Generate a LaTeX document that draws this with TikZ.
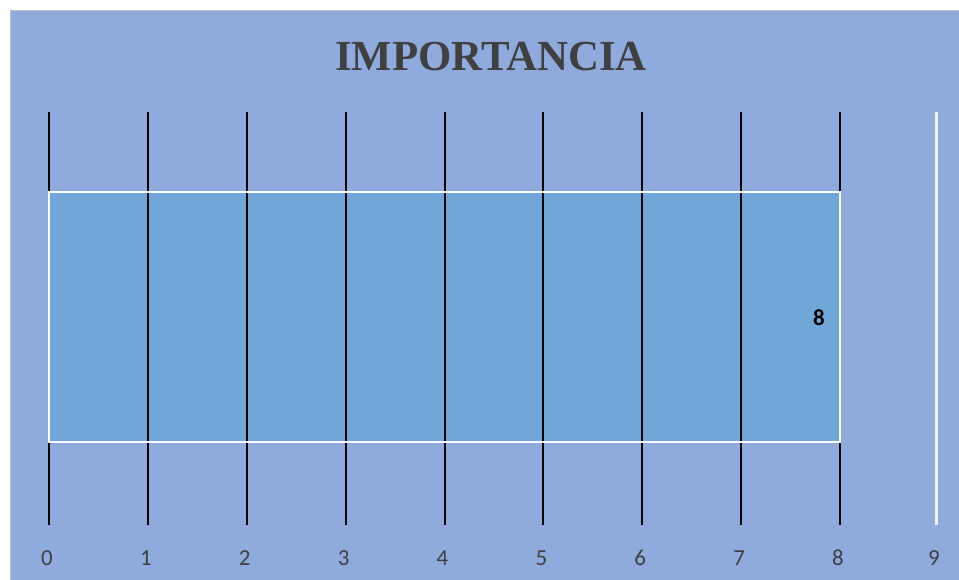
\documentclass[tikz,border=0pt]{standalone}
\usepackage{fontspec}
\setmainfont{Liberation Serif}
\newfontfamily\axisfont{Carlito}
\usepackage{tikz}
\definecolor{chartbg}{HTML}{8FAADC}
\definecolor{barfill}{HTML}{70A7D9}
\definecolor{txtgray}{HTML}{404040}
\definecolor{rimgray}{HTML}{BFBFBF}
\newcommand{\tick}[2]{node[text=txtgray,font=\axisfont\fontsize{23}{26}\selectfont] (#1) {#2}}

\begin{document}
\begin{tikzpicture}[x=1bp,y=-1bp]
       \useasboundingbox (0,0) rectangle (959,580);
       \fill[white] (0,0) rectangle (959,580);
       \fill[chartbg] (11,11) rectangle (959,580);
       \draw[rimgray,line width=1.5bp] (10.5,580) -- (10.5,10.5) -- (959,10.5);
       \node[text=txtgray,font=\bfseries\fontsize{43}{48}\selectfont] (title) at (491,57) {IMPORTANCIA};
       \foreach \x in {0,...,8} {
       \coordinate (top\x) at (49+98.875*\x,112);
       \coordinate (bot\x) at (49+98.875*\x,525);}
       \coordinate (top9) at (936,112);
       \coordinate (bot9) at (936,525);
       \fill[barfill] (49,192) rectangle (840,442) node[pos=.5] (bar) {};
       \foreach \x in {0,...,8} {
       \draw[line width=2bp] (top\x) -- (bot\x);}
       \draw[white!92!gray,line width=3bp] (top9) -- (bot9);
       \draw[white,line width=2bp] (49,192) rectangle (840,442);
       \node[font=\axisfont\bfseries\fontsize{23}{26}\selectfont] (val) at (819,318) {8};
       \foreach \x in {0,...,9} {
       \path (bot\x) ++(-2,33) \tick{lab\x}{\x};}
\end{tikzpicture}
\end{document}
